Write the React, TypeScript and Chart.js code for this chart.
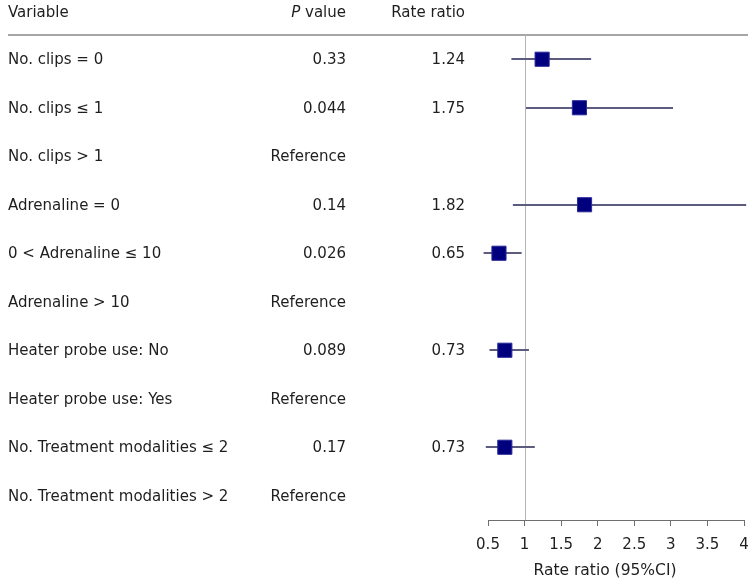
import React, { useEffect, useRef } from "react";
import { Chart, registerables } from "chart.js";

Chart.register(...registerables);

const variables = [
  "No. clips = 0",
  "No. clips \u2264 1",
  "No. clips > 1",
  "Adrenaline = 0",
  "0 < Adrenaline \u2264 10",
  "Adrenaline > 10",
  "Heater probe use: No",
  "Heater probe use: Yes",
  "No. Treatment modalities \u2264 2",
  "No. Treatment modalities > 2",
];
const pValues = ["0.33", "0.044", "Reference", "0.14", "0.026", "Reference", "0.089", "Reference", "0.17", "Reference"];
const rateRatios: (number | null)[] = [1.24, 1.75, null, 1.82, 0.65, null, 0.73, null, 0.73, null];
const ciLower: (number | null)[] = [0.82, 1.02, null, 0.84, 0.44, null, 0.52, null, 0.47, null];
const ciUpper: (number | null)[] = [1.91, 3.03, null, 4.03, 0.96, null, 1.06, null, 1.14, null];
const xTicks = [0.5, 1, 1.5, 2, 2.5, 3, 3.5, 4];
const headers = { variable: "Variable", pItalic: "P", pRest: " value", rate: "Rate ratio" };
const axisTitle = "Rate ratio (95%CI)";
const referenceValue = 1;

const FONT = "DejaVu Sans";
const TEXT = "#1e1e1e";

const forestPlugin = {
  id: "forest",
  beforeDatasetsDraw(chart: any) {
    const { ctx, chartArea, scales } = chart;
    const xs = scales.x;
    const ys = scales.y;
    ctx.save();
    // header rule
    ctx.strokeStyle = "#a6a6a6";
    ctx.lineWidth = 2;
    ctx.beginPath();
    ctx.moveTo(8, chartArea.top);
    ctx.lineTo(748, chartArea.top);
    ctx.stroke();
    // reference line
    const rx = Math.round(xs.getPixelForValue(referenceValue)) + 0.5;
    ctx.strokeStyle = "#b4b4b4";
    ctx.lineWidth = 1;
    ctx.beginPath();
    ctx.moveTo(rx, chartArea.top);
    ctx.lineTo(rx, chartArea.bottom);
    ctx.stroke();
    // CI whiskers
    ctx.strokeStyle = "#5c5c7e";
    ctx.lineWidth = 2;
    for (let i = 0; i < variables.length; i++) {
      const lo = ciLower[i];
      const hi = ciUpper[i];
      if (lo == null || hi == null) continue;
      const y = Math.round(ys.getPixelForValue(i + 1));
      ctx.beginPath();
      ctx.moveTo(xs.getPixelForValue(lo), y);
      ctx.lineTo(xs.getPixelForValue(hi), y);
      ctx.stroke();
    }
    ctx.restore();
  },
  afterDraw(chart: any) {
    const { ctx, scales, chartArea } = chart;
    const ys = scales.y;
    const pRight = 346;
    const rRight = 465;
    ctx.save();
    ctx.fillStyle = TEXT;
    ctx.textBaseline = "middle";
    ctx.font = `15px "${FONT}"`;
    const hy = ys.getPixelForValue(0) + 2;
    ctx.textAlign = "left";
    ctx.fillText(headers.variable, 8, hy);
    ctx.textAlign = "right";
    ctx.fillText(headers.pRest, pRight, hy);
    const w = ctx.measureText(headers.pRest).width;
    ctx.font = `italic 15px "${FONT}"`;
    ctx.fillText(headers.pItalic, pRight - w, hy);
    ctx.font = `15px "${FONT}"`;
    ctx.fillText(headers.rate, rRight, hy);
    for (let i = 0; i < variables.length; i++) {
      const y = ys.getPixelForValue(i + 1) + 1;
      ctx.textAlign = "left";
      ctx.fillText(variables[i], 8, y);
      ctx.textAlign = "right";
      ctx.fillText(pValues[i], pRight, y);
      const rr = rateRatios[i];
      if (rr != null) ctx.fillText(rr.toFixed(2), rRight, y);
    }
    // axis title
    ctx.textAlign = "center";
    ctx.font = `15.5px "${FONT}"`;
    ctx.fillText(axisTitle, (chartArea.left + chartArea.right) / 2 - 11, chartArea.bottom + 51);
    ctx.restore();
  },
};

export default function App() {
  const ref = useRef<HTMLCanvasElement | null>(null);
  useEffect(() => {
    if (!ref.current) return;
    const points = rateRatios
      .map((v, i) => (v == null ? null : { x: v, y: i + 1 }))
      .filter((p) => p !== null) as { x: number; y: number }[];
    const chart = new Chart(ref.current, {
      type: "scatter",
      data: {
        datasets: [
          {
            data: points,
            pointStyle: "rect",
            pointRadius: 10,
            pointHoverRadius: 10,
            backgroundColor: "#00007f",
            borderColor: "#2a2a9c",
            borderWidth: 1,
          },
        ],
      },
      options: {
        animation: false,
        responsive: false,
        events: [],
        layout: { padding: { left: 488, right: 12, top: 35, bottom: 21 } },
        plugins: { legend: { display: false }, tooltip: { enabled: false } },
        scales: {
          x: {
            type: "linear",
            min: 0.5,
            max: 4,
            afterBuildTicks: (scale: any) => {
              scale.ticks = xTicks.map((v) => ({ value: v }));
            },
            afterFit: (scale: any) => {
              scale.paddingLeft = 0;
              scale.paddingRight = 0;
            },
            ticks: {
              color: TEXT,
              font: { family: FONT, size: 15 },
              padding: 10,
              callback: (v: any) => String(v),
              maxRotation: 0,
              autoSkip: false,
            },
            grid: { drawOnChartArea: false, drawTicks: true, tickLength: 6, color: "#6e6e6e" },
            border: { display: true, color: "#6e6e6e", width: 1 },
          },
          y: {
            type: "linear",
            reverse: true,
            min: 0.5,
            max: 10.5,
            display: false,
          },
        },
      },
      plugins: [forestPlugin],
    });
    return () => chart.destroy();
  }, []);
  return (
    <div style={{ position: "fixed", left: 0, top: 0, width: 756, height: 585, background: "#fff" }}>
      <canvas ref={ref} width={756} height={585} style={{ width: 756, height: 585 }} />
    </div>
  );
}
